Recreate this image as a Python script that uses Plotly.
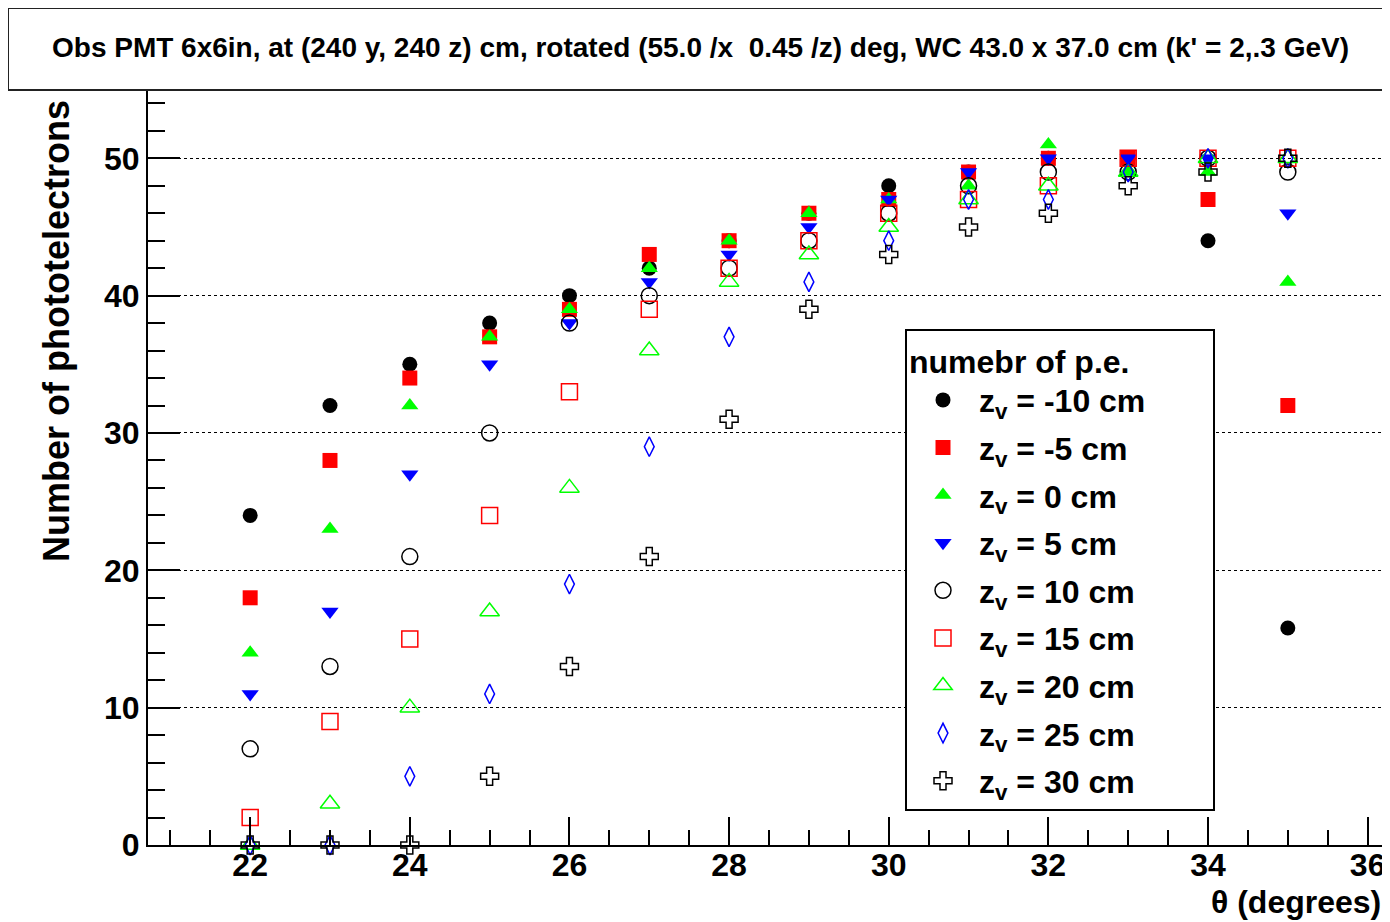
import plotly.graph_objects as go

# ---- data ----
theta = [22, 23, 24, 25, 26, 27, 28, 29, 30, 31, 32, 33, 34, 35]

zv_labels = ["-10", "-5", "0", "5", "10", "15", "20", "25", "30"]

pe_zm10 = [24, 32, 35, 38, 40, 42, 44, 46, 48, 49, 50, 50, 44, 15.8]
pe_zm5 = [18, 28, 34, 37, 39, 43, 44, 46, 47, 49, 50, 50, 47, 32]
pe_z0 = [14, 23, 32, 37, 39, 42, 44, 46, 47, 48, 51, 49, 49, 41]
pe_z5 = [11, 17, 27, 35, 38, 41, 43, 45, 47, 49, 50, 50, 50, 46]
pe_z10 = [7, 13, 21, 30, 38, 40, 42, 44, 46, 48, 49, 49, 50, 49]
pe_z15 = [2, 9, 15, 24, 33, 39, 42, 44, 46, 47, 48, 50, 50, 50]
pe_z20 = [0, 3, 10, 17, 26, 36, 41, 43, 45, 47, 48, 49, 50, 50]
pe_z25 = [0, 0, 5, 11, 19, 29, 37, 41, 44, 47, 47, 49, 50, 50]
pe_z30 = [0, 0, 0, 5, 13, 21, 31, 39, 43, 45, 46, 48, 49, 50]

series = [pe_zm10, pe_zm5, pe_z0, pe_z5, pe_z10, pe_z15, pe_z20, pe_z25, pe_z30]

# ---- styles ----
styles = [
    dict(symbol="circle", color="black", size=15),
    dict(symbol="square", color="#ff0000", size=15),
    dict(symbol="triangle-up", color="#00ff00", size=15),
    dict(symbol="triangle-down", color="#0000ff", size=15),
    dict(symbol="circle-open", color="black", size=16),
    dict(symbol="square-open", color="#ff0000", size=16),
    dict(symbol="triangle-up-open", color="#00ff00", size=17),
    dict(symbol="diamond-tall-open", color="#0000ff", size=14),
    dict(symbol="cross-open", color="black", size=15),
]

FONT = "Liberation Sans"
NB = "\u00a0"

fig = go.Figure()
for i, (lab, ys, st) in enumerate(zip(zv_labels, series, styles)):
    is_open = st["symbol"].endswith("-open")
    name = f"z<sub>v</sub> = {lab} cm"
    if i == 0:
        name += NB * 7
    fig.add_trace(go.Scatter(
        x=theta, y=ys, mode="markers",
        name=name,
        legendgroup=f"g{i}",
        cliponaxis=False,
        marker=dict(symbol=st["symbol"], size=st["size"], color=st["color"],
                    line=dict(color=st["color"], width=1.5 if is_open else 0)),
    ))

# page is offset by the 8px body margin; work in reference page pixels
OFF = 8
W, H = 1390 - OFF, 922 - OFF
L, R, T = 148 - OFF, 0, 91 - OFF
B = H - (845 - OFF)
pw, ph = W - L - R, H - T - B


def px_x(p):
    return (p - OFF - L) / pw


def px_y(p):
    return (H - B - (p - OFF)) / ph


fig.update_layout(
    width=W, height=H,
    margin=dict(l=L, r=R, t=T, b=B),
    paper_bgcolor="white", plot_bgcolor="white",
    font=dict(family=FONT, color="black"),
    showlegend=True,
    legend=dict(
        x=px_x(905), y=px_y(329), xanchor="left", yanchor="top",
        bgcolor="white", bordercolor="black", borderwidth=2,
        font=dict(family=FONT, size=32, color="black", weight="bold"),
        title=dict(text="numebr of p.e.", font=dict(family=FONT, size=32, color="black", weight="bold")),
        tracegroupgap=3,
        itemwidth=62,
        itemsizing="trace",
    ),
    xaxis=dict(
        range=[20.72, 36.28], showgrid=False, zeroline=False,
        showline=True, linecolor="black", linewidth=2,
        ticks="inside", ticklen=28, tickwidth=1.5, tickcolor="black",
        tick0=0, dtick=2, ticklabelstandoff=-9,
        minor=dict(ticks="inside", ticklen=15, dtick=0.5, tickwidth=1.5, tickcolor="black", showgrid=False),
        tickfont=dict(family=FONT, size=32, color="black", weight="bold"),
    ),
    yaxis=dict(
        range=[0, 54.9], zeroline=False,
        showgrid=True, gridcolor="black", griddash="dot", gridwidth=1,
        showline=True, linecolor="black", linewidth=2,
        ticks="inside", ticklen=32, tickwidth=1.5, tickcolor="black",
        tick0=0, dtick=10,
        minor=dict(ticks="inside", ticklen=17, dtick=2, tickwidth=1.5, tickcolor="black", showgrid=False),
        tickfont=dict(family=FONT, size=32, color="black", weight="bold"),
    ),
    shapes=[
        dict(type="rect", xref="paper", yref="paper",
             x0=px_x(8), x1=px_x(1395), y0=px_y(90), y1=px_y(8),
             line=dict(color="#222222", width=2), fillcolor="white", layer="below"),
    ],
    annotations=[
        dict(text="Obs PMT 6x6in, at (240 y, 240 z) cm, rotated (55.0 /x \u00a00.45 /z) deg, WC 43.0 x 37.0 cm (k' = 2,.3 GeV)",
             xref="paper", yref="paper", x=px_x(700), y=px_y(47),
             xanchor="center", yanchor="middle", showarrow=False,
             font=dict(family=FONT, size=28, color="black", weight="bold")),
        dict(text="Number of phototelectrons", textangle=-90,
             xref="paper", yref="paper", x=px_x(56), y=px_y(98),
             xanchor="center", yanchor="top", showarrow=False,
             font=dict(family=FONT, size=36, color="black", weight="bold")),
        dict(text="\u03b8 (degrees)",
             xref="paper", yref="paper", x=px_x(1383), y=px_y(902),
             xanchor="right", yanchor="middle", showarrow=False,
             font=dict(family=FONT, size=32, color="black", weight="bold")),
    ],
)

fig.write_html("out.html")
